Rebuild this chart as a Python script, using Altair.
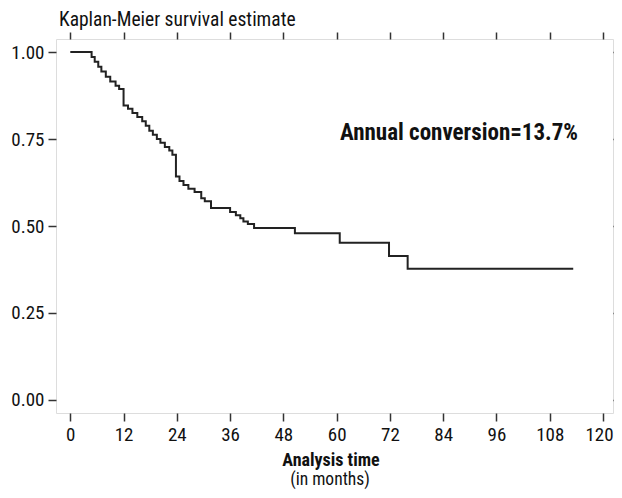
import altair as alt
import pandas as pd

# Kaplan-Meier step curve (months, survival after the step)
months = [0, 4.8, 5.5, 6.3, 7.0, 8.0, 9.0, 10.2, 11.0, 12.0, 13.0, 14.0, 15.1, 16.2,
          17.0, 17.8, 18.6, 19.5, 20.3, 21.3, 22.3, 23.0, 23.8, 24.6, 25.5, 26.6,
          28.0, 29.5, 30.3, 31.7, 36.0, 37.3, 38.3, 39.0, 40.0, 41.4, 50.6, 60.7,
          71.8, 76.0, 113.3]
survival = [1.0, 0.986, 0.972, 0.958, 0.944, 0.929, 0.915, 0.903, 0.894, 0.846, 0.837,
            0.825, 0.813, 0.801, 0.788, 0.774, 0.762, 0.750, 0.739, 0.727, 0.717,
            0.705, 0.642, 0.629, 0.618, 0.607, 0.598, 0.580, 0.571, 0.552, 0.540,
            0.531, 0.522, 0.513, 0.506, 0.494, 0.479, 0.452, 0.414, 0.377, 0.377]

x_ticks = [0, 12, 24, 36, 48, 60, 72, 84, 96, 108, 120]
y_ticks = [0.0, 0.25, 0.5, 0.75, 1.0]

df = pd.DataFrame({"months": months, "survival": survival})

FONT = "Liberation Sans Narrow, Roboto Condensed, DejaVu Sans Condensed, sans-serif"
AX = "#333333"
TXT = "#111111"

xscale = alt.Scale(domain=[-3.22, 122.26], nice=False, zero=False)
yscale = alt.Scale(domain=[-0.0374, 1.0374], nice=False, zero=False)

base = alt.Chart(df)

curve = base.mark_line(interpolate="step-after", color="#222222", strokeWidth=2).encode(
    x=alt.X("months:Q", scale=xscale,
            axis=alt.Axis(values=x_ticks, format="d", title=None,
                          labelFont=FONT, labelFontSize=19, labelColor=TXT,
                          labelOffset=alt.ExprRef(expr="datum.value == 120 ? -4 : 0"),
                          labelPadding=4, tickSize=8, tickColor=AX, tickWidth=1.5,
                          domain=False, grid=False, labelFlush=False)),
    y=alt.Y("survival:Q", scale=yscale,
            axis=alt.Axis(values=y_ticks, format=".2f", title=None,
                          labelFont=FONT, labelFontSize=19, labelColor=TXT,
                          labelPadding=4, tickSize=8, tickColor=AX, tickWidth=1.5,
                          domain=False, grid=False)),
)

mirror = base.mark_line(opacity=0).encode(
    x=alt.X("months:Q", scale=xscale,
            axis=alt.Axis(orient="top", values=x_ticks, labels=False, title=None,
                          tickSize=7, tickColor=AX, tickWidth=1.5, domain=False, grid=False)),
    y=alt.Y("survival:Q", scale=yscale,
            axis=alt.Axis(orient="right", values=y_ticks, labels=False, title=None,
                          tickSize=7, tickColor=AX, tickWidth=1.5, domain=False, grid=False)),
)

texts = pd.DataFrame({"t": ["Kaplan-Meier survival estimate", "Analysis time",
                            "(in months)", "Annual conversion=13.7%"]})

title_txt = alt.Chart(texts.iloc[[0]]).mark_text(
    font=FONT, fontSize=19.5, color=TXT, align="left", baseline="alphabetic"
).encode(text="t:N", x=alt.value(3), y=alt.value(-13))

xtitle_txt = alt.Chart(texts.iloc[[1]]).mark_text(
    font=FONT, fontSize=18, fontWeight="bold", color=TXT, align="center",
    baseline="alphabetic"
).encode(text="t:N", x=alt.value(275), y=alt.value(427))

sub_txt = alt.Chart(texts.iloc[[2]]).mark_text(
    font=FONT, fontSize=17.5, color=TXT, align="center", baseline="alphabetic"
).encode(text="t:N", x=alt.value(274), y=alt.value(446))

annot = alt.Chart(texts.iloc[[3]]).mark_text(
    font=FONT, fontSize=23, fontWeight="bold", color=TXT, align="left",
    baseline="middle"
).encode(text="t:N", x=alt.value(284), y=alt.value(94))

chart = alt.layer(curve, mirror, title_txt, xtitle_txt, sub_txt, annot).resolve_axis(
    x="independent", y="independent"
).properties(
    width=557, height=374,
    autosize=alt.AutoSizeParams(type="none"),
    padding={"left": 48, "top": 31, "right": 1, "bottom": 77},
).configure_view(stroke="#333333", strokeWidth=1.5).configure(background="white")

chart.save("out.html", embed_options={"renderer": "svg", "actions": False})
